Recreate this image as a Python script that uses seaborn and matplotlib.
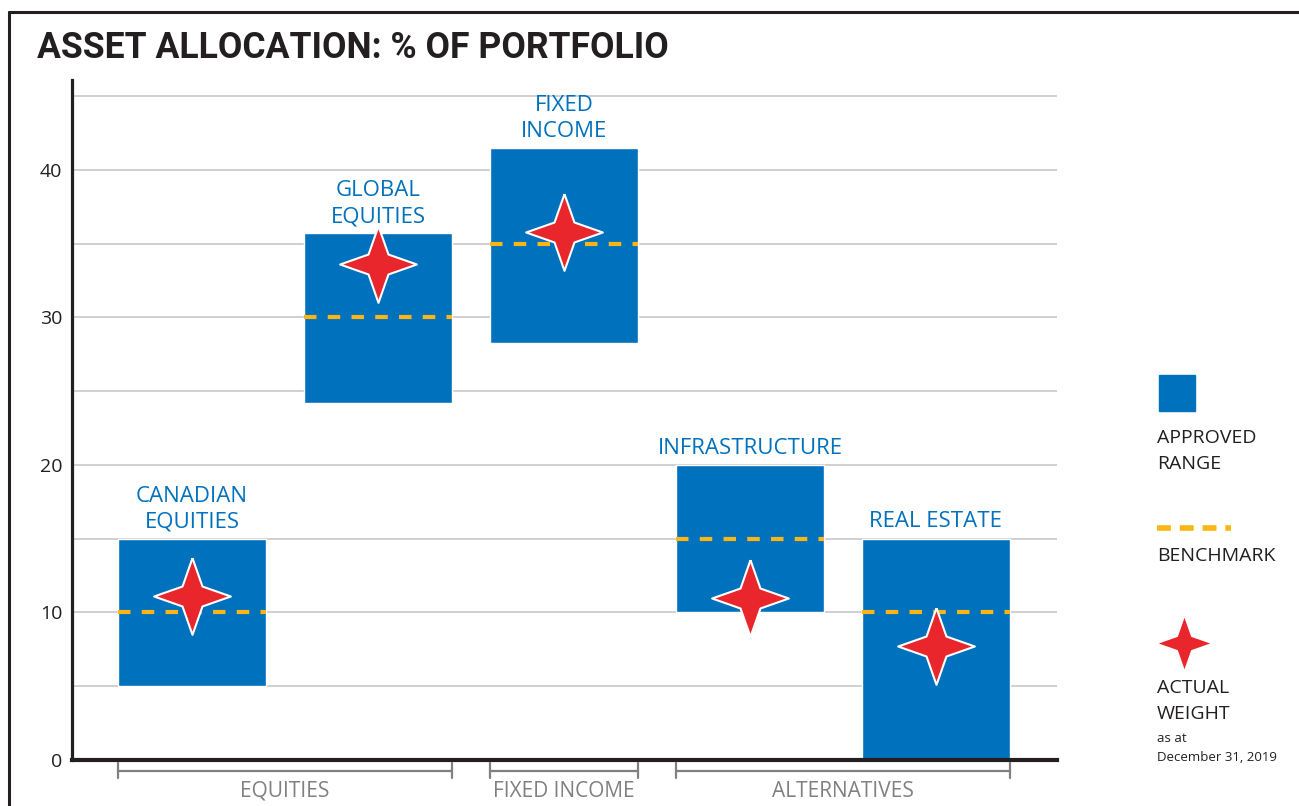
import matplotlib.pyplot as plt
import seaborn as sns
import pandas as pd
from matplotlib.path import Path
from matplotlib.patches import Rectangle
from matplotlib.lines import Line2D

# Asset classes with approved range, benchmark and actual weight (% of portfolio)
assets = ["CANADIAN\nEQUITIES", "GLOBAL\nEQUITIES", "FIXED\nINCOME", "INFRASTRUCTURE", "REAL ESTATE"]
range_low = [5, 24.2, 28.3, 10, 0]
range_high = [15, 35.7, 41.5, 20, 15]
benchmark = [10, 30, 35, 15, 10]
actual = [11.1, 33.6, 35.8, 11.0, 7.7]

# Groups along the bottom: (label, first asset, last asset)
groups = ["EQUITIES", "FIXED INCOME", "ALTERNATIVES"]
group_first = [0, 2, 3]
group_last = [1, 2, 4]

yticks = [0, 10, 20, 30, 40]

BLUE = "#0071BC"
GOLD = "#FDB515"
RED = "#E8262B"
DARK = "#231F20"
GRAY = "#808080"

sns.set_theme(style="white")
plt.rcParams["font.family"] = ["Open Sans", "DejaVu Sans"]

df = pd.DataFrame({"pos": range(len(assets)), "asset": assets,
                   "low": range_low, "high": range_high,
                   "bench": benchmark, "actual": actual})

# four point star marker
k = 0.26
star = Path([(0, 1), (k, k), (1, 0), (k, -k), (0, -1),
             (-k, -k), (-1, 0), (-k, k), (0, 1)])

W, H = 1299, 806
fig = plt.figure(figsize=(W / 100, H / 100), dpi=100)
ax = fig.add_axes([72 / W, 46 / H, 985 / W, 680 / H])

bw = 0.8
ax.bar(df["pos"], df["high"] - df["low"], bottom=df["low"], width=bw,
       color=BLUE, zorder=2)

for p, b in zip(df["pos"], df["bench"]):
    ax.plot([p - bw / 2, p + bw / 2], [b, b], color=GOLD, lw=3,
            dashes=(3, 2.7), zorder=3, solid_capstyle="butt")

sns.scatterplot(data=df, x="pos", y="actual", marker=star, s=3050,
                color=RED, edgecolor="white", linewidth=1.5, zorder=5,
                ax=ax, legend=False)

for p, h, name in zip(df["pos"], df["high"], df["asset"]):
    ax.annotate(name, (p, h), xytext=(0, 4.5), textcoords="offset points",
                ha="center", va="bottom", color=BLUE, fontsize=16,
                linespacing=1.3)

ax.set_xlim(-0.645, 4.651)
ax.set_ylim(0, 46.1)
ax.set_yticks(range(0, 50, 5))
ax.set_yticklabels([str(t) if t in yticks else "" for t in range(0, 50, 5)])
ax.set_xticks([])
ax.set_xlabel("")
ax.set_ylabel("")
ax.yaxis.grid(True, color="#C8C8C8", lw=1.2)
ax.set_axisbelow(True)
ax.tick_params(axis="y", length=0, pad=7, labelsize=14, labelcolor=DARK)
for s in ["top", "right"]:
    ax.spines[s].set_visible(False)
ax.spines["left"].set_color(DARK)
ax.spines["left"].set_linewidth(2.3)
ax.spines["bottom"].set_color(DARK)
ax.spines["bottom"].set_linewidth(3)
ax.spines["left"].set_zorder(6)
ax.spines["bottom"].set_zorder(6)

# group brackets under the axis
tr = ax.get_xaxis_transform()
for g, a, b in zip(groups, group_first, group_last):
    x0, x1 = a - bw / 2, b + bw / 2
    ax.plot([x0, x1], [-0.016, -0.016], color=GRAY, lw=1.6, transform=tr, clip_on=False)
    for x in (x0, x1):
        ax.plot([x, x], [-0.004, -0.026], color=GRAY, lw=1.6, transform=tr, clip_on=False)
    ax.text((x0 + x1) / 2, -0.046, g, transform=tr, ha="center", va="center",
            color=GRAY, fontsize=15)

# title and frame
fig.text(37 / W, 1 - 48 / H, "ASSET ALLOCATION: % OF PORTFOLIO",
         family=["Roboto", "DejaVu Sans"], fontweight="bold",
         fontsize=25.6, color=DARK, ha="left", va="center")
fig.add_artist(Line2D([9 / W, 9 / W], [0, 1 - 12 / H], color=DARK, lw=2.2,
                      transform=fig.transFigure))
fig.add_artist(Line2D([9 / W, 1], [1 - 12 / H, 1 - 12 / H], color=DARK, lw=2.2,
                      transform=fig.transFigure))

# legend on the right
fig.add_artist(Rectangle((1159 / W, 1 - 411 / H), 36 / W, 36 / H, color=BLUE,
                         transform=fig.transFigure))
fig.text(1157 / W, 1 - 429 / H, "APPROVED\nRANGE", fontsize=14, color=DARK,
         ha="left", va="top", linespacing=1.6)
fig.add_artist(Line2D([1157 / W, 1231 / W], [1 - 528 / H, 1 - 528 / H], color=GOLD,
                      lw=4, dashes=(2.5, 1.6), transform=fig.transFigure))
fig.text(1157 / W, 1 - 547 / H, "BENCHMARK", fontsize=14, color=DARK,
         ha="left", va="top")
fig.add_artist(Line2D([1184 / W], [1 - 643 / H], marker=star, markersize=37,
                      color=RED, markeredgewidth=0, transform=fig.transFigure))
fig.text(1157 / W, 1 - 679 / H, "ACTUAL\nWEIGHT", fontsize=14, color=DARK,
         ha="left", va="top", linespacing=1.6)
fig.text(1157 / W, 1 - 732 / H, "as at\nDecember 31, 2019", fontsize=9.5, color=DARK,
         ha="left", va="top", linespacing=1.6)

fig.savefig("out.png", dpi=100)
